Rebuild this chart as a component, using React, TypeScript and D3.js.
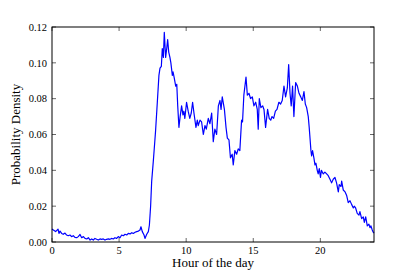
import React, { useEffect, useRef } from 'react';
import * as d3 from 'd3';

// hour of day (x) and probability density (y)
const hours = [
  0.0, 0.1, 0.27, 0.45, 0.52, 0.6, 0.72, 0.84, 0.97, 1.09, 1.21, 1.34, 1.46, 1.59, 1.71, 1.84, 1.96,
  2.09, 2.21, 2.34, 2.46, 2.59, 2.71, 2.84, 2.96, 3.08, 3.2, 3.33, 3.45, 3.58, 3.7, 3.82, 3.95,
  4.07, 4.2, 4.32, 4.44, 4.57, 4.69, 4.82, 4.94, 5.07, 5.19, 5.32, 5.44, 5.57, 5.69, 5.82, 5.94,
  6.06, 6.19, 6.31, 6.44, 6.56, 6.63, 6.73, 6.86, 6.93, 7.06, 7.18, 7.26, 7.35, 7.43, 7.55, 7.65,
  7.72, 7.85, 7.97, 8.05, 8.15, 8.22, 8.3, 8.37, 8.47, 8.55, 8.62, 8.7, 8.79, 8.86, 8.97, 9.02,
  9.1, 9.22, 9.3, 9.37, 9.46, 9.55, 9.66, 9.76, 9.83, 9.9, 10.03, 10.15, 10.27, 10.38, 10.48,
  10.58, 10.73, 10.83, 10.9, 11.03, 11.15, 11.28, 11.4, 11.5, 11.65, 11.77, 11.9, 12.02, 12.14,
  12.27, 12.4, 12.52, 12.6, 12.69, 12.85, 12.97, 13.07, 13.19, 13.3, 13.43, 13.51, 13.63, 13.76,
  13.88, 14.0, 14.13, 14.2, 14.3, 14.46, 14.56, 14.68, 14.8, 14.93, 15.05, 15.18, 15.3, 15.37,
  15.45, 15.57, 15.7, 15.8, 15.92, 16.07, 16.19, 16.3, 16.4, 16.52, 16.65, 16.77, 16.91, 17.04,
  17.16, 17.29, 17.41, 17.54, 17.64, 17.74, 17.83, 17.93, 18.03, 18.16, 18.29, 18.41, 18.54,
  18.66, 18.78, 18.88, 18.98, 19.1, 19.17, 19.22, 19.3, 19.35, 19.42, 19.52, 19.6, 19.67, 19.77,
  19.84, 19.92, 20.01, 20.08, 20.22, 20.34, 20.47, 20.59, 20.72, 20.84, 20.96, 21.09, 21.21,
  21.34, 21.41, 21.54, 21.59, 21.71, 21.84, 21.96, 22.08, 22.21, 22.33, 22.46, 22.53, 22.63,
  22.75, 22.88, 22.95, 23.08, 23.2, 23.28, 23.38, 23.5, 23.62, 23.7, 23.77, 23.87, 23.94, 24.0,
];

const density = [
  0.0073, 0.0067, 0.0058, 0.0072, 0.0048, 0.0061, 0.0048, 0.0043, 0.005, 0.0039, 0.0035, 0.0039,
  0.003, 0.0035, 0.0026, 0.0024, 0.003, 0.0042, 0.0024, 0.003, 0.002, 0.0017, 0.0024, 0.0011,
  0.0017, 0.0011, 0.002, 0.0015, 0.0011, 0.0017, 0.0015, 0.0017, 0.0011, 0.0015, 0.0017, 0.0015,
  0.002, 0.0017, 0.0024, 0.002, 0.003, 0.0024, 0.0039, 0.0035, 0.0043, 0.0039, 0.0048, 0.0045,
  0.0052, 0.0048, 0.0054, 0.0058, 0.0061, 0.0067, 0.0085, 0.0058, 0.0039, 0.002, 0.0043, 0.0058,
  0.0095, 0.02, 0.034, 0.045, 0.055, 0.062, 0.078, 0.093, 0.097, 0.098, 0.108, 0.103, 0.117,
  0.103, 0.108, 0.113, 0.106, 0.103, 0.1, 0.093, 0.095, 0.092, 0.087, 0.088, 0.076, 0.064, 0.07,
  0.076, 0.071, 0.073, 0.069, 0.078, 0.073, 0.069, 0.072, 0.078, 0.072, 0.064, 0.068, 0.065,
  0.068, 0.067, 0.06, 0.065, 0.063, 0.069, 0.066, 0.072, 0.056, 0.063, 0.06, 0.076, 0.079, 0.074,
  0.081, 0.074, 0.064, 0.058, 0.057, 0.047, 0.049, 0.043, 0.051, 0.049, 0.052, 0.051, 0.068,
  0.067, 0.082, 0.092, 0.082, 0.083, 0.08, 0.081, 0.076, 0.078, 0.074, 0.063, 0.08, 0.075, 0.076,
  0.074, 0.064, 0.074, 0.069, 0.068, 0.07, 0.069, 0.073, 0.074, 0.078, 0.077, 0.079, 0.087, 0.081,
  0.086, 0.099, 0.083, 0.076, 0.087, 0.07, 0.089, 0.087, 0.083, 0.081, 0.079, 0.084, 0.077, 0.075,
  0.07, 0.064, 0.059, 0.051, 0.048, 0.051, 0.047, 0.043, 0.044, 0.04, 0.038, 0.041, 0.036, 0.04,
  0.038, 0.039, 0.038, 0.037, 0.035, 0.033, 0.035, 0.036, 0.033, 0.028, 0.032, 0.031, 0.034,
  0.029, 0.028, 0.026, 0.022, 0.023, 0.021, 0.019, 0.02, 0.019, 0.016, 0.015, 0.017, 0.013, 0.014,
  0.011, 0.014, 0.009, 0.01, 0.008, 0.009, 0.0067, 0.0055, 0.005,
];

const xTicks = [0, 5, 10, 15, 20];
const yTicks = [0, 0.02, 0.04, 0.06, 0.08, 0.1, 0.12];

const W = 415;
const H = 277;
const margin = { top: 27, right: 41, bottom: 35, left: 52 };
const font = '"Liberation Serif", "DejaVu Serif", serif';

export default function App() {
  const ref = useRef<SVGSVGElement>(null);

  useEffect(() => {
    const svg = d3.select(ref.current);
    svg.selectAll('*').remove();

    const iw = W - margin.left - margin.right;
    const ih = H - margin.top - margin.bottom;

    const x = d3.scaleLinear().domain([0, 24]).range([0, iw]);
    const y = d3.scaleLinear().domain([0, 0.12]).range([ih, 0]);

    const g = svg.append('g').attr('transform', `translate(${margin.left},${margin.top})`);

    const pts = hours.map((h, i) => [h, density[i]] as [number, number]);
    const line = d3
      .line<[number, number]>()
      .x(d => x(d[0]))
      .y(d => y(d[1]));

    g.append('path')
      .datum(pts)
      .attr('d', line)
      .attr('fill', 'none')
      .attr('stroke', '#0000ff')
      .attr('stroke-width', 1.2)
      .attr('stroke-linejoin', 'round');

    // ticks pointing inward on all four sides
    const tl = 4;
    xTicks.forEach(t => {
      g.append('line').attr('x1', x(t)).attr('x2', x(t)).attr('y1', ih).attr('y2', ih - tl)
        .attr('stroke', '#000').attr('stroke-width', 0.6);
      g.append('line').attr('x1', x(t)).attr('x2', x(t)).attr('y1', 0).attr('y2', tl)
        .attr('stroke', '#000').attr('stroke-width', 0.6);
      g.append('text')
        .attr('x', x(t))
        .attr('y', ih + 12)
        .attr('text-anchor', 'middle')
        .style('font-family', font)
        .style('font-size', '10.5px')
        .text(String(t));
    });

    yTicks.forEach(t => {
      g.append('line').attr('x1', 0).attr('x2', tl).attr('y1', y(t)).attr('y2', y(t))
        .attr('stroke', '#000').attr('stroke-width', 0.6);
      g.append('line').attr('x1', iw).attr('x2', iw - tl).attr('y1', y(t)).attr('y2', y(t))
        .attr('stroke', '#000').attr('stroke-width', 0.6);
      g.append('text')
        .attr('x', -5)
        .attr('y', y(t))
        .attr('dy', '0.35em')
        .attr('text-anchor', 'end')
        .style('font-family', font)
        .style('font-size', '10.5px')
        .text(t.toFixed(2));
    });

    g.append('rect')
      .attr('width', iw)
      .attr('height', ih)
      .attr('fill', 'none')
      .attr('stroke', '#000')
      .attr('stroke-width', 1);

    svg.append('text')
      .attr('x', margin.left + iw / 2)
      .attr('y', 267)
      .attr('text-anchor', 'middle')
      .style('font-family', font)
      .style('font-size', '13px')
      .text('Hour of the day');

    svg.append('text')
      .attr('transform', `translate(20,${margin.top + ih / 2}) rotate(-90)`)
      .attr('text-anchor', 'middle')
      .style('font-family', font)
      .style('font-size', '13px')
      .text('Probability Density');
  }, []);

  return (
    <svg
      ref={ref}
      width={W}
      height={H}
      style={{ position: 'absolute', left: 0, top: 0, background: '#fff' }}
    />
  );
}
